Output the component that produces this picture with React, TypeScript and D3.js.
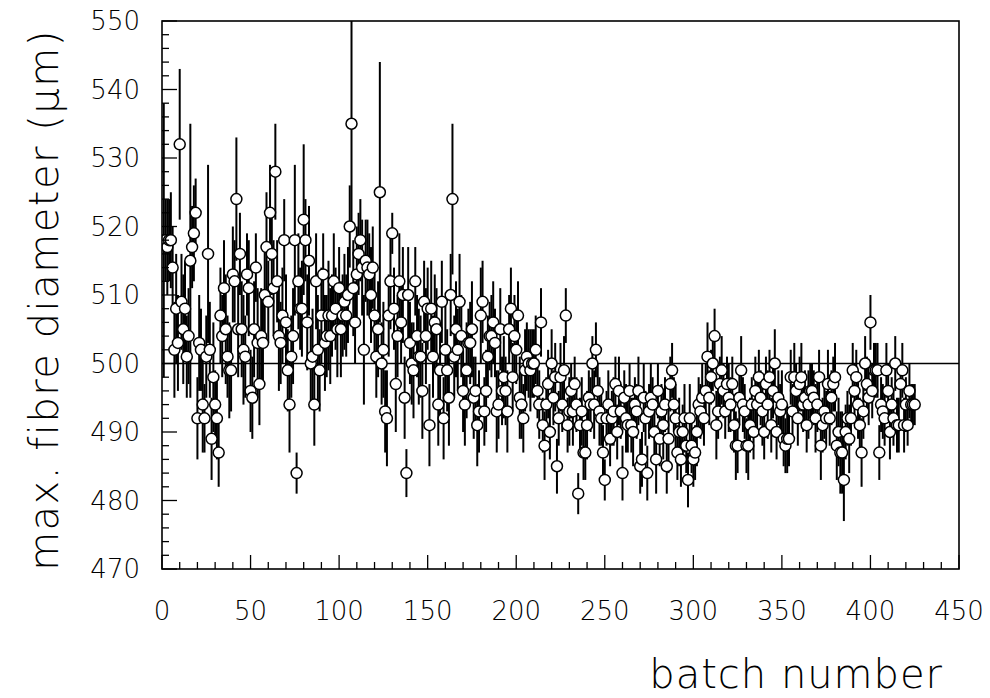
import React from 'react';
import * as d3 from 'd3';

// max. fibre diameter per batch (batch number = index + 1)
const diameters: number[] = [
  518, 518, 517, 518, 518, 514, 502, 508, 503, 532,
  509, 505, 508, 501, 504, 515, 517, 519, 522, 492,
  503, 502, 494, 492, 501, 516, 502, 489, 498, 494,
  492, 487, 507, 504, 511, 505, 501, 499, 499, 513,
  512, 524, 505, 516, 505, 502, 501, 513, 511, 496,
  495, 505, 514, 503, 497, 504, 503, 510, 517, 509,
  522, 516, 511, 528, 512, 504, 503, 507, 518, 506,
  499, 494, 501, 504, 518, 484, 512, 508, 508, 521,
  518, 506, 515, 500, 501, 494, 512, 502, 499, 507,
  513, 503, 504, 507, 504, 507, 512, 508, 505, 511,
  505, 507, 509, 507, 510, 520, 535, 511, 506, 513,
  516, 518, 514, 502, 515, 514, 513, 510, 514, 507,
  501, 505, 525, 500, 502, 493, 492, 507, 512, 519,
  508, 497, 504, 512, 506, 510, 495, 484, 510, 503,
  500, 499, 512, 504, 501, 501, 496, 509, 504, 508,
  491, 508, 501, 506, 505, 494, 499, 509, 492, 502,
  499, 495, 510, 524, 501, 505, 502, 509, 504, 496,
  494, 499, 503, 503, 505, 495, 496, 491, 493, 507,
  509, 493, 496, 501, 504, 504, 506, 503, 493, 494,
  505, 496, 498, 496, 493, 505, 508, 498, 504, 502,
  507, 495, 494, 492, 499, 501, 500, 499, 500, 500,
  502, 496, 494, 506, 491, 488, 494, 497, 490, 500,
  495, 498, 485, 492, 498, 494, 499, 507, 491, 493,
  496, 493, 497, 494, 481, 491, 493, 487, 487, 491,
  495, 494, 500, 494, 502, 496, 493, 492, 487, 483,
  492, 494, 489, 492, 493, 497, 490, 496, 493, 484,
  495, 492, 491, 496, 491, 490, 494, 493, 496, 485,
  486, 495, 492, 484, 493, 495, 494, 490, 486, 496,
  489, 493, 491, 494, 485, 489, 497, 499, 494, 492,
  487, 490, 486, 490, 492, 488, 483, 492, 488, 486,
  487, 490, 494, 493, 495, 492, 496, 501, 495, 498,
  500, 504, 491, 493, 497, 499, 496, 493, 497, 495,
  494, 497, 491, 488, 488, 495, 499, 494, 493, 488,
  488, 491, 494, 490, 496, 494, 498, 495, 493, 490,
  497, 494, 498, 491, 496, 500, 490, 495, 493, 494,
  489, 488, 489, 489, 498, 493, 498, 496, 492, 497,
  498, 494, 495, 491, 494, 496, 496, 495, 492, 494,
  498, 488, 491, 493, 492, 497, 492, 495, 497, 498,
  488, 490, 487, 487, 483, 490, 492, 489, 492, 499,
  496, 498, 494, 491, 487, 493, 500, 497, 495, 506,
  496, 499, 499, 499, 487, 494, 493, 492, 499, 496,
  490, 494, 492, 500, 491, 491, 497, 499, 491, 494,
  491, 496, 494, 494, 494,
];

// error on each batch value
const errors: number[] = [
  20, 6, 7, 6, 7, 6, 7, 8, 7, 11,
  7, 8, 7, 6, 7, 20, 6, 7, 5, 6,
  7, 6, 7, 5, 6, 13, 7, 6, 8, 5,
  6, 5, 7, 6, 7, 8, 6, 7, 6, 7,
  6, 9, 7, 6, 7, 8, 6, 6, 7, 6,
  6, 7, 5, 8, 6, 7, 6, 7, 8, 6,
  7, 6, 7, 7, 6, 8, 6, 7, 6, 7,
  6, 7, 6, 7, 11, 3, 7, 6, 7, 11,
  6, 7, 8, 6, 7, 6, 7, 8, 6, 7,
  6, 7, 6, 8, 7, 6, 7, 6, 7, 6,
  7, 6, 7, 6, 7, 6, 15, 7, 6, 7,
  6, 6, 7, 8, 6, 7, 6, 7, 6, 7,
  6, 7, 19, 6, 7, 6, 7, 6, 7, 3,
  6, 7, 6, 7, 6, 7, 6, 3.5, 7, 6,
  6, 7, 5, 6, 7, 6, 7, 6, 7, 6,
  6, 7, 6, 7, 6, 6, 7, 6, 6, 7,
  6, 7, 6, 11, 6, 7, 6, 7, 6, 6,
  6, 7, 5, 6, 7, 6, 5, 6, 6, 7,
  6, 5, 6, 6, 5, 6, 6, 5, 6, 5,
  6, 5, 6, 5, 6, 5, 6, 5, 6, 5,
  5, 6, 5, 5, 6, 5, 5, 6, 5, 5,
  5, 4, 5, 5, 4, 5, 4, 5, 4, 5,
  4, 5, 4, 4, 5, 4, 5, 4, 4, 5,
  4, 5, 4, 4, 3, 4, 5, 4, 4, 5,
  4, 4, 4, 5, 4, 4, 5, 4, 4, 3,
  4, 5, 4, 4, 5, 4, 4, 5, 4, 4,
  4, 5, 4, 4, 4, 5, 4, 4, 5, 4,
  4, 5, 4, 4, 4, 5, 4, 4, 5, 4,
  4, 4, 5, 4, 4, 5, 4, 4, 4, 5,
  4, 5, 4, 4, 5, 4, 4, 5, 4, 4,
  4, 5, 4, 4, 5, 4, 4, 5, 4, 4,
  4, 4, 5, 4, 4, 5, 4, 4, 4, 5,
  4, 4, 4, 5, 4, 4, 5, 4, 4, 4,
  5, 4, 4, 4, 5, 4, 4, 4, 5, 4,
  4, 5, 4, 4, 4, 5, 4, 4, 4, 5,
  4, 4, 5, 4, 4, 4, 5, 4, 4, 4,
  5, 4, 4, 4, 5, 4, 4, 4, 5, 4,
  4, 5, 4, 4, 4, 5, 4, 4, 4, 5,
  5, 5, 6, 6, 6, 4, 4, 5, 4, 4,
  4, 4, 5, 4, 5, 4, 4, 4, 4, 4,
  4, 4, 4, 4, 4, 4, 4, 4, 4, 4,
  4, 4, 4, 4, 4, 4, 3, 4, 4, 4,
  3, 4, 3, 3, 3,
];

const xTickLabels = ['0', '50', '100', '150', '200', '250', '300', '350', '400', '450'];
const yTickLabels = ['470', '480', '490', '500', '510', '520', '530', '540', '550'];
const nominal = 500;
const xTitle = 'batch number';
const yTitle = 'max. fibre diameter (\u03bcm)';

const W = 990;
const H = 698;
const L = 162, R = 959, T = 21, B = 569;
const FONT = "'DejaVu Sans', sans-serif";

export default function App() {
  const x = d3.scaleLinear().domain([0, 450]).range([L, R]);
  const y = d3.scaleLinear().domain([470, 550]).range([B, T]);
  const xMinor = d3.range(0, 451, 10);
  const yMinor = d3.range(470, 551, 2);
  const pts = diameters.map((v, i) => ({ b: i + 1, v, e: errors[i] }));
  const r = 5.5;

  return (
    <svg width={W} height={H} style={{ position: 'absolute', left: 0, top: 0, background: '#fff' }}>
      <defs>
        <clipPath id="plotclip">
          <rect x={L} y={T} width={R - L} height={B - T} />
        </clipPath>
      </defs>
      <rect x={0} y={0} width={W} height={H} fill="#fff" />

      {/* nominal line */}
      <line x1={L} x2={R} y1={y(nominal)} y2={y(nominal)} stroke="#000" strokeWidth={1.5} />

      <g clipPath="url(#plotclip)">
        {pts.map((p) => (
          <line key={'e' + p.b} x1={x(p.b)} x2={x(p.b)} y1={y(p.v - p.e)} y2={y(p.v + p.e)} stroke="#000" strokeWidth={2} />
        ))}
        {pts.map((p) => (
          <circle key={'c' + p.b} cx={x(p.b)} cy={y(p.v)} r={r} fill="#fff" stroke="#000" strokeWidth={1.5} />
        ))}
      </g>

      {/* frame */}
      <rect x={L} y={T} width={R - L} height={B - T} fill="none" stroke="#000" strokeWidth={1.6} />

      {/* x ticks */}
      {xMinor.map((t) => (
        <line key={'xt' + t} x1={x(t)} x2={x(t)} y1={B} y2={B - (t % 50 === 0 ? 14 : 7)} stroke="#000" strokeWidth={1.3} />
      ))}
      {/* y ticks */}
      {yMinor.map((t) => (
        <line key={'yt' + t} x1={L} x2={L + (t % 10 === 0 ? 15 : 7)} y1={y(t)} y2={y(t)} stroke="#000" strokeWidth={1.3} />
      ))}

      {xTickLabels.map((s) => (
        <text key={'xl' + s} x={x(+s)} y={620} textAnchor="middle" fontFamily={FONT} fontSize={26} fontWeight={300} fill="#000">{s}</text>
      ))}
      {yTickLabels.map((s) => (
        <text key={'yl' + s} x={140} y={y(+s)} dy="0.36em" textAnchor="end" fontFamily={FONT} fontSize={26} fontWeight={300} fill="#000">{s}</text>
      ))}

      <text x={943} y={688} textAnchor="end" fontFamily={FONT} fontSize={40} fontWeight={300} letterSpacing={1} fill="#000">{xTitle}</text>
      <text transform={`translate(58, 300) rotate(-90)`} textAnchor="middle" fontFamily={FONT} fontSize={40} fontWeight={300} letterSpacing={1.5} fill="#000">{yTitle}</text>
    </svg>
  );
}
